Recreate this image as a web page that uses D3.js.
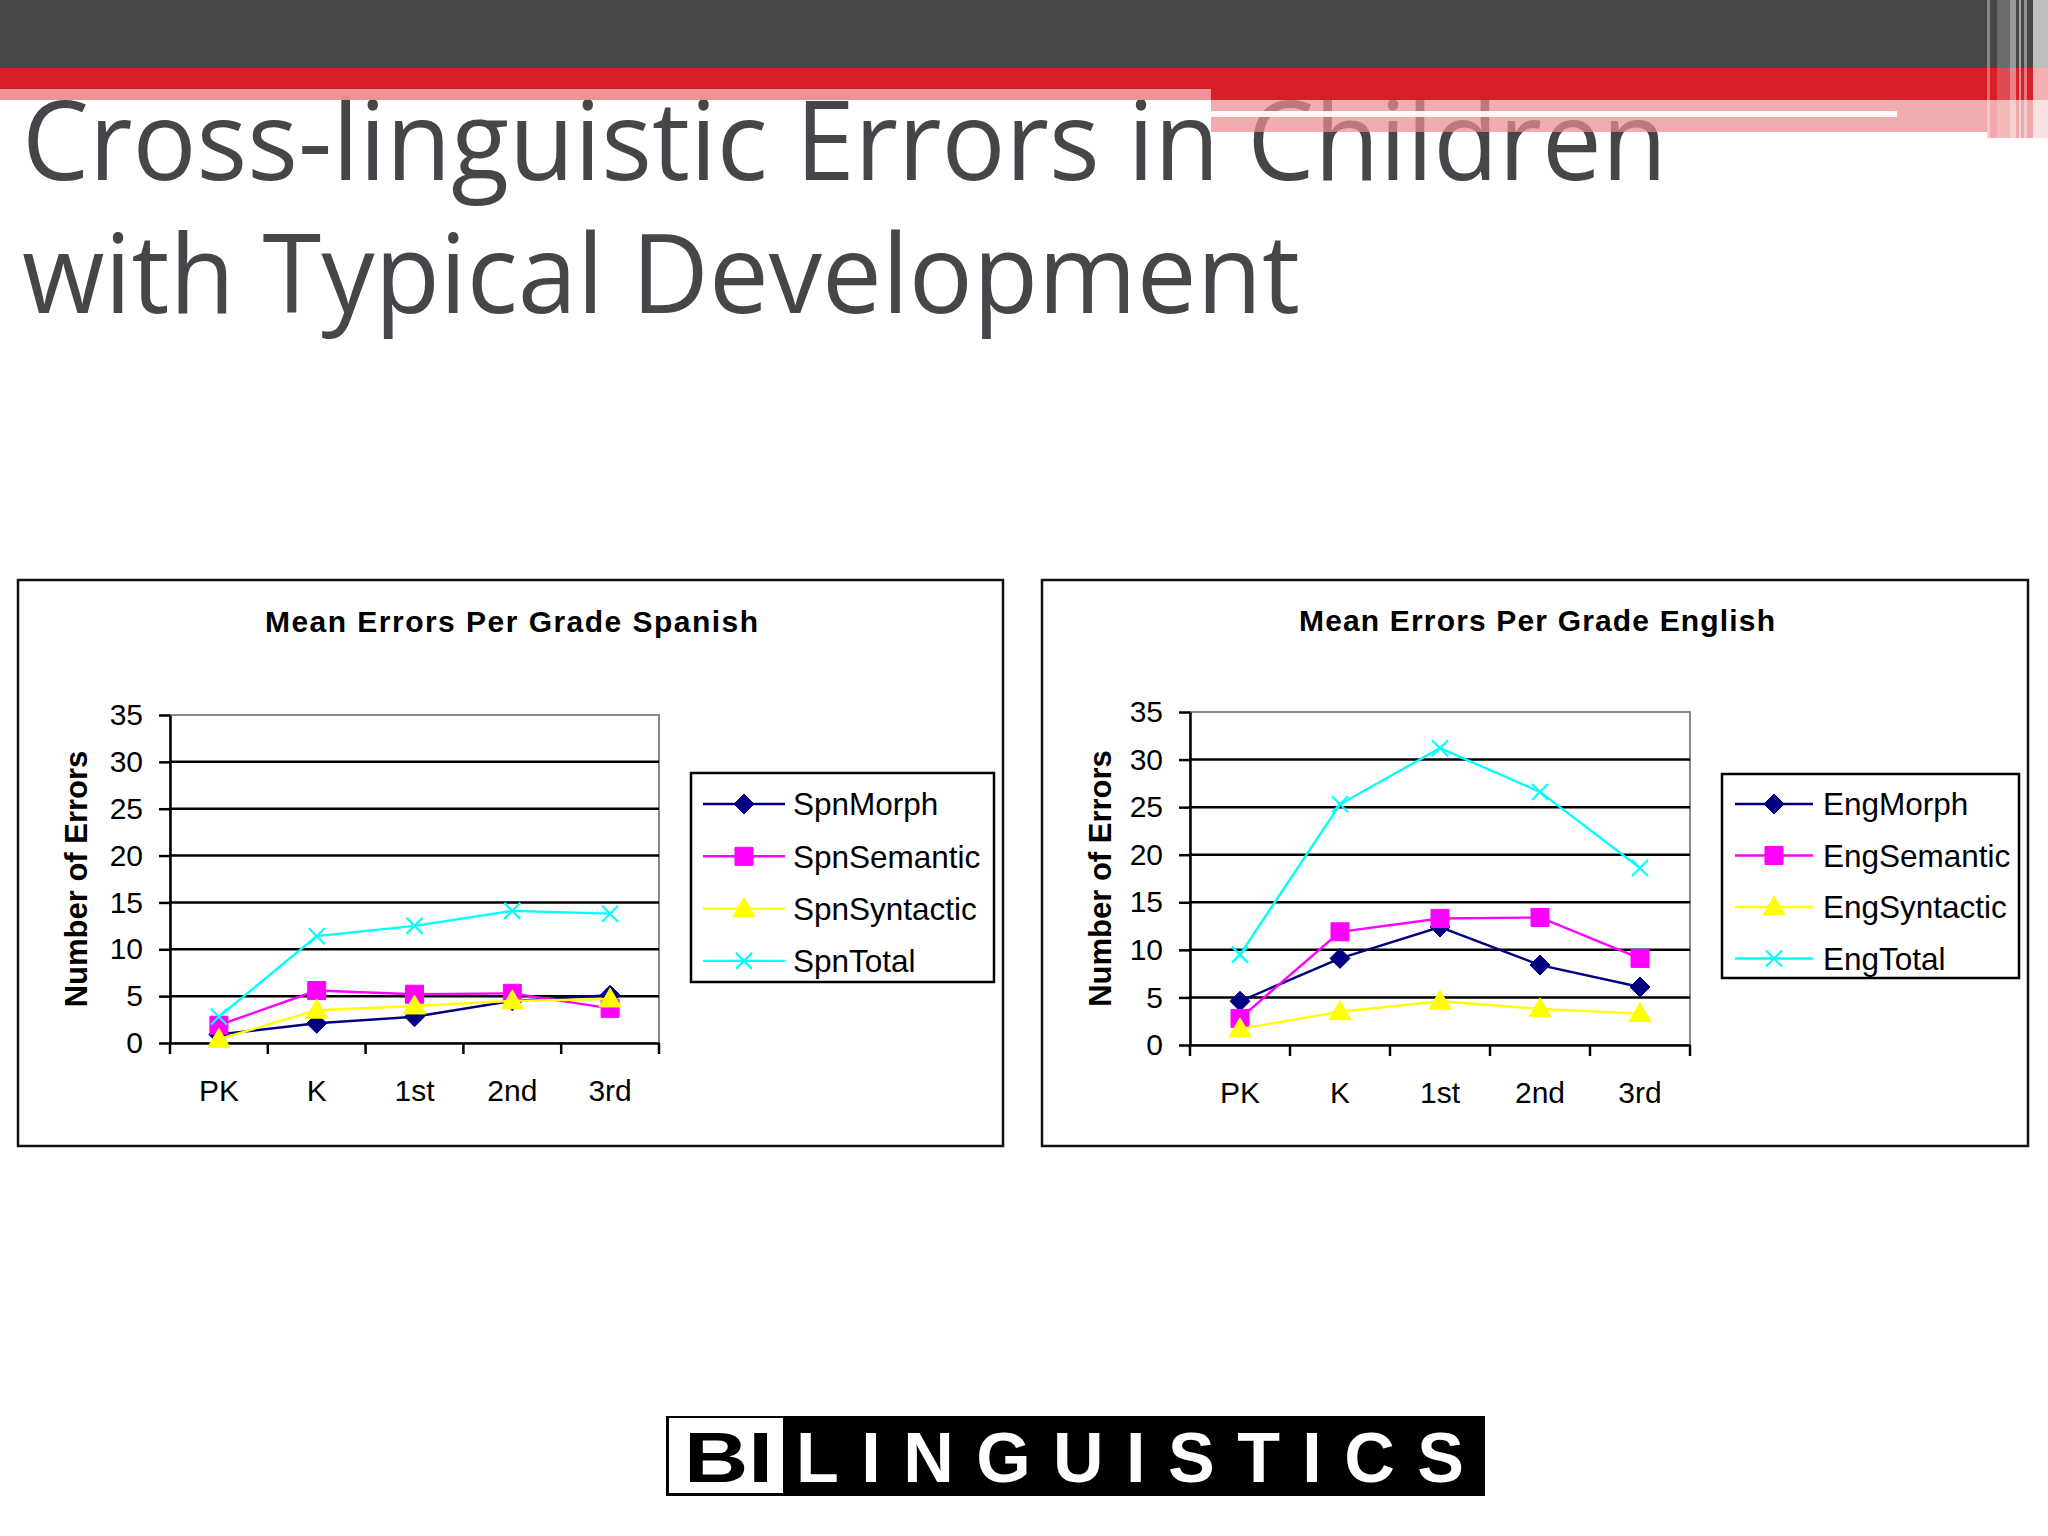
<!DOCTYPE html>
<html><head><meta charset="utf-8">
<script src="https://cdn.jsdelivr.net/npm/d3@7"></script>
<style>html,body{margin:0;padding:0;background:#fff;} svg{display:block}</style>
</head><body><svg id="c" width="2048" height="1536"></svg>
<script>
// ---------------- data ----------------
const grades = ["PK", "K", "1st", "2nd", "3rd"];
const yTickValues = [0, 5, 10, 15, 20, 25, 30, 35];
const spnSeriesNames = ["SpnMorph", "SpnSemantic", "SpnSyntactic", "SpnTotal"];
const spnMorph = [0.9, 2.1, 2.8, 4.5, 5.1];
const spnSemantic = [1.9, 5.6, 5.2, 5.3, 3.7];
const spnSyntactic = [0.4, 3.5, 3.95, 4.5, 4.7];
const spnTotal = [2.8, 11.4, 12.5, 14.1, 13.8];
const engSeriesNames = ["EngMorph", "EngSemantic", "EngSyntactic", "EngTotal"];
const engMorph = [4.6, 9.1, 12.4, 8.4, 6.1];
const engSemantic = [2.8, 11.9, 13.3, 13.4, 9.1];
const engSyntactic = [1.7, 3.5, 4.6, 3.8, 3.3];
const engTotal = [9.5, 25.3, 31.2, 26.6, 18.6];
const chartTitles = ["Mean Errors Per Grade Spanish", "Mean Errors Per Grade English"];
const yAxisTitle = "Number of Errors";
const slideTitleLines = ["Cross-linguistic Errors in Children", "with Typical Development"];
const logoParts = ["BI", "LINGUISTICS"];

// ---------------- styles ----------------
const seriesColors = ["#000080", "#FF00FF", "#FFFF00", "#00FFFF"];
const markerTypes = ["diamond", "square", "triangle", "x"];
const chartFont = "'Liberation Sans', Arial, sans-serif";

const svg = d3.select("#c");

// ---------------- header ----------------
const hdr = svg.append("g");
hdr.append("rect").attr("x", 0).attr("y", 0).attr("width", 2048).attr("height", 68).attr("fill", "#464646");
hdr.append("rect").attr("x", 0).attr("y", 68).attr("width", 2048).attr("height", 21).attr("fill", "#D81F27");
hdr.append("rect").attr("x", 1211).attr("y", 88).attr("width", 837).attr("height", 12).attr("fill", "#D81F27");

// slide title (one text element, two lines)
const titleText = svg.append("text").attr("font-family", "'Open Sans', 'Noto Sans', sans-serif")
  .attr("fill", "#464549").attr("font-size", 110);
titleText.append("tspan").attr("x", 22).attr("y", 180)
  .attr("textLength", 1645).attr("lengthAdjust", "spacingAndGlyphs").text(slideTitleLines[0]);
titleText.append("tspan").attr("x", 22).attr("y", 313)
  .attr("textLength", 1278).attr("lengthAdjust", "spacingAndGlyphs").text(slideTitleLines[1]);

// pink overlays (over the title)
const pink = "#EC8C90";
hdr.raise();
const ov = svg.append("g");
ov.append("rect").attr("x", 0).attr("y", 89).attr("width", 1211).attr("height", 11).attr("fill", pink).attr("opacity", 0.95);
ov.append("rect").attr("x", 1211).attr("y", 100).attr("width", 776).attr("height", 32).attr("fill", pink).attr("opacity", 0.72);
ov.append("rect").attr("x", 1987).attr("y", 100).attr("width", 61).attr("height", 38).attr("fill", pink).attr("opacity", 0.75);
ov.append("rect").attr("x", 1211).attr("y", 111).attr("width", 686).attr("height", 6).attr("fill", "#fff").attr("opacity", 0.9);
// vertical stripes at the right end
const stripes = [[1987, 3, 0.35], [1997, 13, 0.2], [2010, 6, 0.45], [2019, 2, 0.5], [2024, 3, 0.4], [2033, 15, 0.65]];
stripes.forEach(s => ov.append("rect").attr("x", s[0]).attr("y", 0).attr("width", s[1]).attr("height", 138)
  .attr("fill", "#fff").attr("opacity", s[2]));

// ---------------- charts ----------------
function markerPath(type) {
  switch (type) {
    case "diamond": return "M0,-10L10,0L0,10L-10,0Z";
    case "square": return "M-9,-9H9V9H-9Z";
    case "triangle": return "M0,-11L11,8L-11,8Z";
    default: return "M-8,-8L8,8M8,-8L-8,8";
  }
}
function drawMarker(g, type, color, cx, cy) {
  const p = g.append("path").attr("d", markerPath(type)).attr("transform", `translate(${cx},${cy})`);
  if (type === "x") p.attr("fill", "none").attr("stroke", color).attr("stroke-width", 2.2);
  else p.attr("fill", color).attr("stroke", color).attr("stroke-width", 1);
}

function drawChart(cfg, names, seriesData, title) {
  const g = svg.append("g").attr("font-family", chartFont);
  const P = cfg.plot;
  const x = d3.scaleBand().domain(grades).range([P.x, P.x + P.w]).padding(0);
  const y = d3.scaleLinear().domain([0, 35]).range([P.y + P.h, P.y]);

  g.append("rect").attr("x", cfg.box.x).attr("y", cfg.box.y).attr("width", cfg.box.w).attr("height", cfg.box.h)
    .attr("fill", "#fff").attr("stroke", "#111").attr("stroke-width", 2.5);

  g.append("text").attr("x", cfg.titleX).attr("y", cfg.titleY).attr("font-size", 30).attr("font-weight", "bold")
    .attr("textLength", cfg.titleLen).attr("lengthAdjust", "spacing").text(title);

  // plot border (gray)
  g.append("rect").attr("x", P.x).attr("y", P.y).attr("width", P.w).attr("height", P.h)
    .attr("fill", "none").attr("stroke", "#8a8a8a").attr("stroke-width", 2);

  // gridlines
  g.append("g").selectAll("line").data(yTickValues.filter(v => v > 0 && v < 35)).join("line")
    .attr("x1", P.x).attr("x2", P.x + P.w).attr("y1", d => y(d)).attr("y2", d => y(d))
    .attr("stroke", "#000").attr("stroke-width", 2.5);

  // y axis
  const ya = g.append("g").attr("transform", `translate(${P.x},0)`)
    .call(d3.axisLeft(y).tickValues(yTickValues).tickSize(11).tickSizeOuter(0).tickPadding(16));
  ya.select(".domain").attr("stroke", "#000").attr("stroke-width", 2.5);
  ya.selectAll(".tick line").attr("stroke", "#000").attr("stroke-width", 2.5);
  ya.selectAll(".tick text").attr("font-size", 30).attr("fill", "#000").attr("font-family", chartFont);

  // x axis
  const xa = g.append("g").attr("transform", `translate(0,${P.y + P.h})`)
    .call(d3.axisBottom(x).tickSize(0).tickSizeOuter(0).tickPadding(37));
  xa.select(".domain").attr("stroke", "#000").attr("stroke-width", 2.5);
  xa.selectAll(".tick text").attr("font-size", 30).attr("fill", "#000").attr("font-family", chartFont);
  const bounds = d3.range(grades.length + 1).map(i => P.x + i * x.step());
  g.append("g").selectAll("line").data(bounds).join("line")
    .attr("x1", d => d).attr("x2", d => d).attr("y1", P.y + P.h).attr("y2", P.y + P.h + 11)
    .attr("stroke", "#000").attr("stroke-width", 2.5);

  // y axis title
  g.append("text").attr("transform", `translate(${cfg.axisTitleX},${P.y + P.h / 2}) rotate(-90)`)
    .attr("text-anchor", "middle").attr("dy", "0.36em").attr("font-size", 31).attr("font-weight", "bold")
    .text(yAxisTitle);

  // series
  const line = d3.line().x((d, i) => x(grades[i]) + x.bandwidth() / 2).y(d => y(d));
  seriesData.forEach((vals, si) => {
    const sg = g.append("g");
    sg.append("path").attr("d", line(vals)).attr("fill", "none")
      .attr("stroke", seriesColors[si]).attr("stroke-width", 2.4);
    vals.forEach((v, i) => drawMarker(sg, markerTypes[si], seriesColors[si], x(grades[i]) + x.bandwidth() / 2, y(v)));
  });

  // legend
  const L = cfg.legend;
  g.append("rect").attr("x", L.x).attr("y", L.y).attr("width", L.w).attr("height", L.h)
    .attr("fill", "#fff").attr("stroke", "#000").attr("stroke-width", 2.5);
  names.forEach((n, i) => {
    const cy = L.row0 + i * L.step;
    g.append("line").attr("x1", L.lx1).attr("x2", L.lx2).attr("y1", cy).attr("y2", cy)
      .attr("stroke", seriesColors[i]).attr("stroke-width", 2.4);
    drawMarker(g, markerTypes[i], seriesColors[i], L.mx, cy);
    g.append("text").attr("x", L.tx).attr("y", cy).attr("dy", "0.36em").attr("font-size", 31.5).text(n);
  });
}

drawChart({
  box: { x: 18, y: 580, w: 985, h: 566 },
  plot: { x: 170, y: 715, w: 489, h: 328 },
  titleX: 265, titleY: 632, titleLen: 493,
  axisTitleX: 76,
  legend: { x: 691, y: 773, w: 303, h: 209, row0: 804, step: 52.3, lx1: 703, lx2: 785, mx: 744, tx: 793 }
}, spnSeriesNames, [spnMorph, spnSemantic, spnSyntactic, spnTotal], chartTitles[0]);

drawChart({
  box: { x: 1042, y: 580, w: 986, h: 566 },
  plot: { x: 1190, y: 712, w: 500, h: 333 },
  titleX: 1299, titleY: 631, titleLen: 476,
  axisTitleX: 1100,
  legend: { x: 1722, y: 774, w: 297, h: 204, row0: 804, step: 51.5, lx1: 1735, lx2: 1813, mx: 1774, tx: 1823 }
}, engSeriesNames, [engMorph, engSemantic, engSyntactic, engTotal], chartTitles[1]);

// ---------------- logo ----------------
const logo = svg.append("g").attr("font-family", chartFont).attr("font-weight", "bold");
logo.append("rect").attr("x", 666).attr("y", 1416).attr("width", 819).attr("height", 80).attr("fill", "#000");
logo.append("rect").attr("x", 669).attr("y", 1418).attr("width", 114).attr("height", 75).attr("fill", "#fff");
logo.append("text").attr("x", 684).attr("y", 1482).attr("font-size", 70).attr("fill", "#000")
  .attr("textLength", 89).attr("lengthAdjust", "spacingAndGlyphs").text(logoParts[0]);
logo.append("text").attr("x", 796).attr("y", 1482).attr("font-size", 70).attr("fill", "#fff")
  .attr("textLength", 668).attr("lengthAdjust", "spacing").text(logoParts[1]);
</script>
</body></html>
